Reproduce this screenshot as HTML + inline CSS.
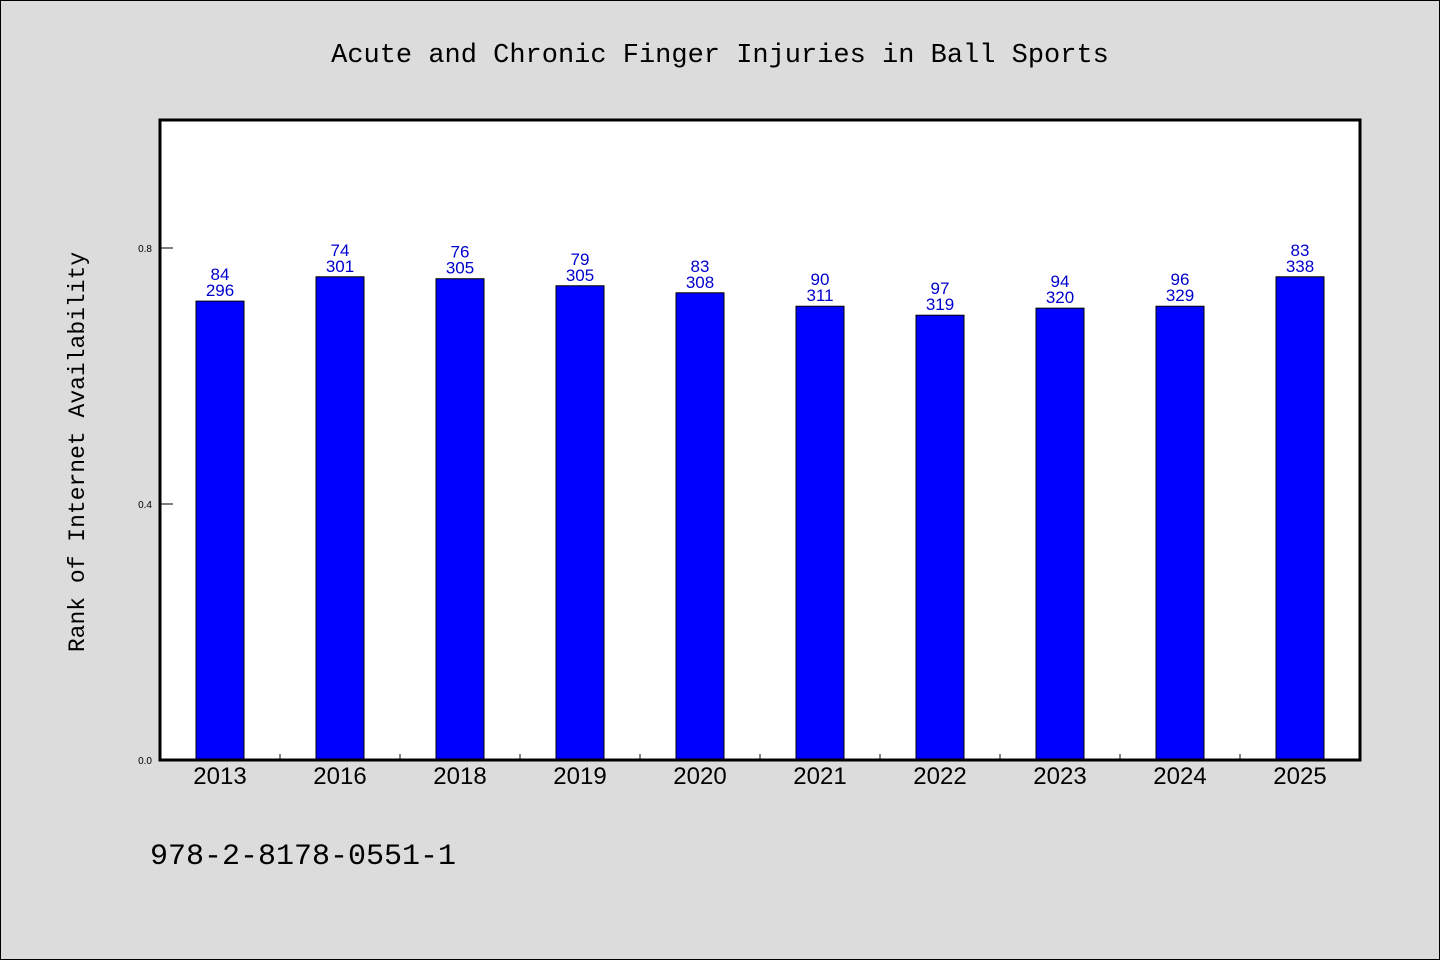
<!DOCTYPE html>
<html><head><meta charset="utf-8"><style>
body{margin:0;background:#dcdcdc;}
svg{display:block;font-family:"Liberation Sans","WenQuanYi Zen Hei",sans-serif;}
</style></head><body>
<svg width="1440" height="960" viewBox="0 0 1440 960">
<rect x="0.5" y="0.5" width="1439" height="959" fill="#dcdcdc" stroke="#000"/>
<text x="720" y="62" text-anchor="middle" font-size="27" font-family="Liberation Mono, monospace">Acute and Chronic Finger Injuries in Ball Sports</text>
<rect x="160" y="120" width="1200" height="640" fill="#fff"/>
<g id="marks"></g>
<rect x="160" y="120" width="1200" height="640" fill="none" stroke="#000" stroke-width="3"/>
<text transform="translate(84,452) rotate(-90)" text-anchor="middle" font-size="23" font-family="Liberation Mono, monospace">Rank of Internet Availability</text>
<text x="150" y="864" font-size="30" font-family="Liberation Mono, monospace">978-2-8178-0551-1</text>
</svg>
<script>
const categories=["2013","2016","2018","2019","2020","2021","2022","2023","2024","2025"];
const values=[0.717,0.755,0.752,0.741,0.730,0.709,0.695,0.706,0.709,0.755];
const topLabels=["84","74","76","79","83","90","97","94","96","83"];
const bottomLabels=["296","301","305","305","308","311","319","320","329","338"];
const yTicks=[0.0,0.4,0.8];
const yTickLabels=["0.0","0.4","0.8"];
const NS="http://www.w3.org/2000/svg";
const g=document.getElementById('marks');
const x0=160,w=1200,y0=760,h=640,ymax=1.0;
const band=w/categories.length;
function xc(i){return x0+band*(i+0.5);}
function ys(v){return y0-v/ymax*h;}
function mk(t,a){const e=document.createElementNS(NS,t);for(const k in a)e.setAttribute(k,a[k]);g.appendChild(e);return e;}
yTicks.forEach((v,i)=>{
  const l=mk('line',{x1:x0,x2:x0+13,y1:ys(v),y2:ys(v),stroke:'#000','stroke-width':1});
  
  
  const t=mk('text',{x:x0-8,y:ys(v)+4,'text-anchor':'end','font-size':10});
  t.textContent=yTickLabels[i];
  
  
});
categories.forEach((c,i)=>{
  if(i>0){const l=mk('line',{x1:x0+band*i,x2:x0+band*i,y1:y0,y2:y0-6,stroke:'#000'});
  
  }
  const bw=48,top=ys(values[i]);
  const r=mk('rect',{x:xc(i)-bw/2,y:top,width:bw,height:y0-top,fill:'#0000ff',stroke:'#000','stroke-width':1});
  
  
  const t1=mk('text',{x:xc(i),y:top-21,'text-anchor':'middle','font-size':17,fill:'#0000cc'});
  t1.textContent=topLabels[i];
  
  
  const t2=mk('text',{x:xc(i),y:top-5,'text-anchor':'middle','font-size':17,fill:'#0000cc'});
  t2.textContent=bottomLabels[i];
  
  
  const xl=mk('text',{x:xc(i),y:y0+24,'text-anchor':'middle','font-size':24});
  xl.textContent=c;
  
  
});
</script>
</body></html>
